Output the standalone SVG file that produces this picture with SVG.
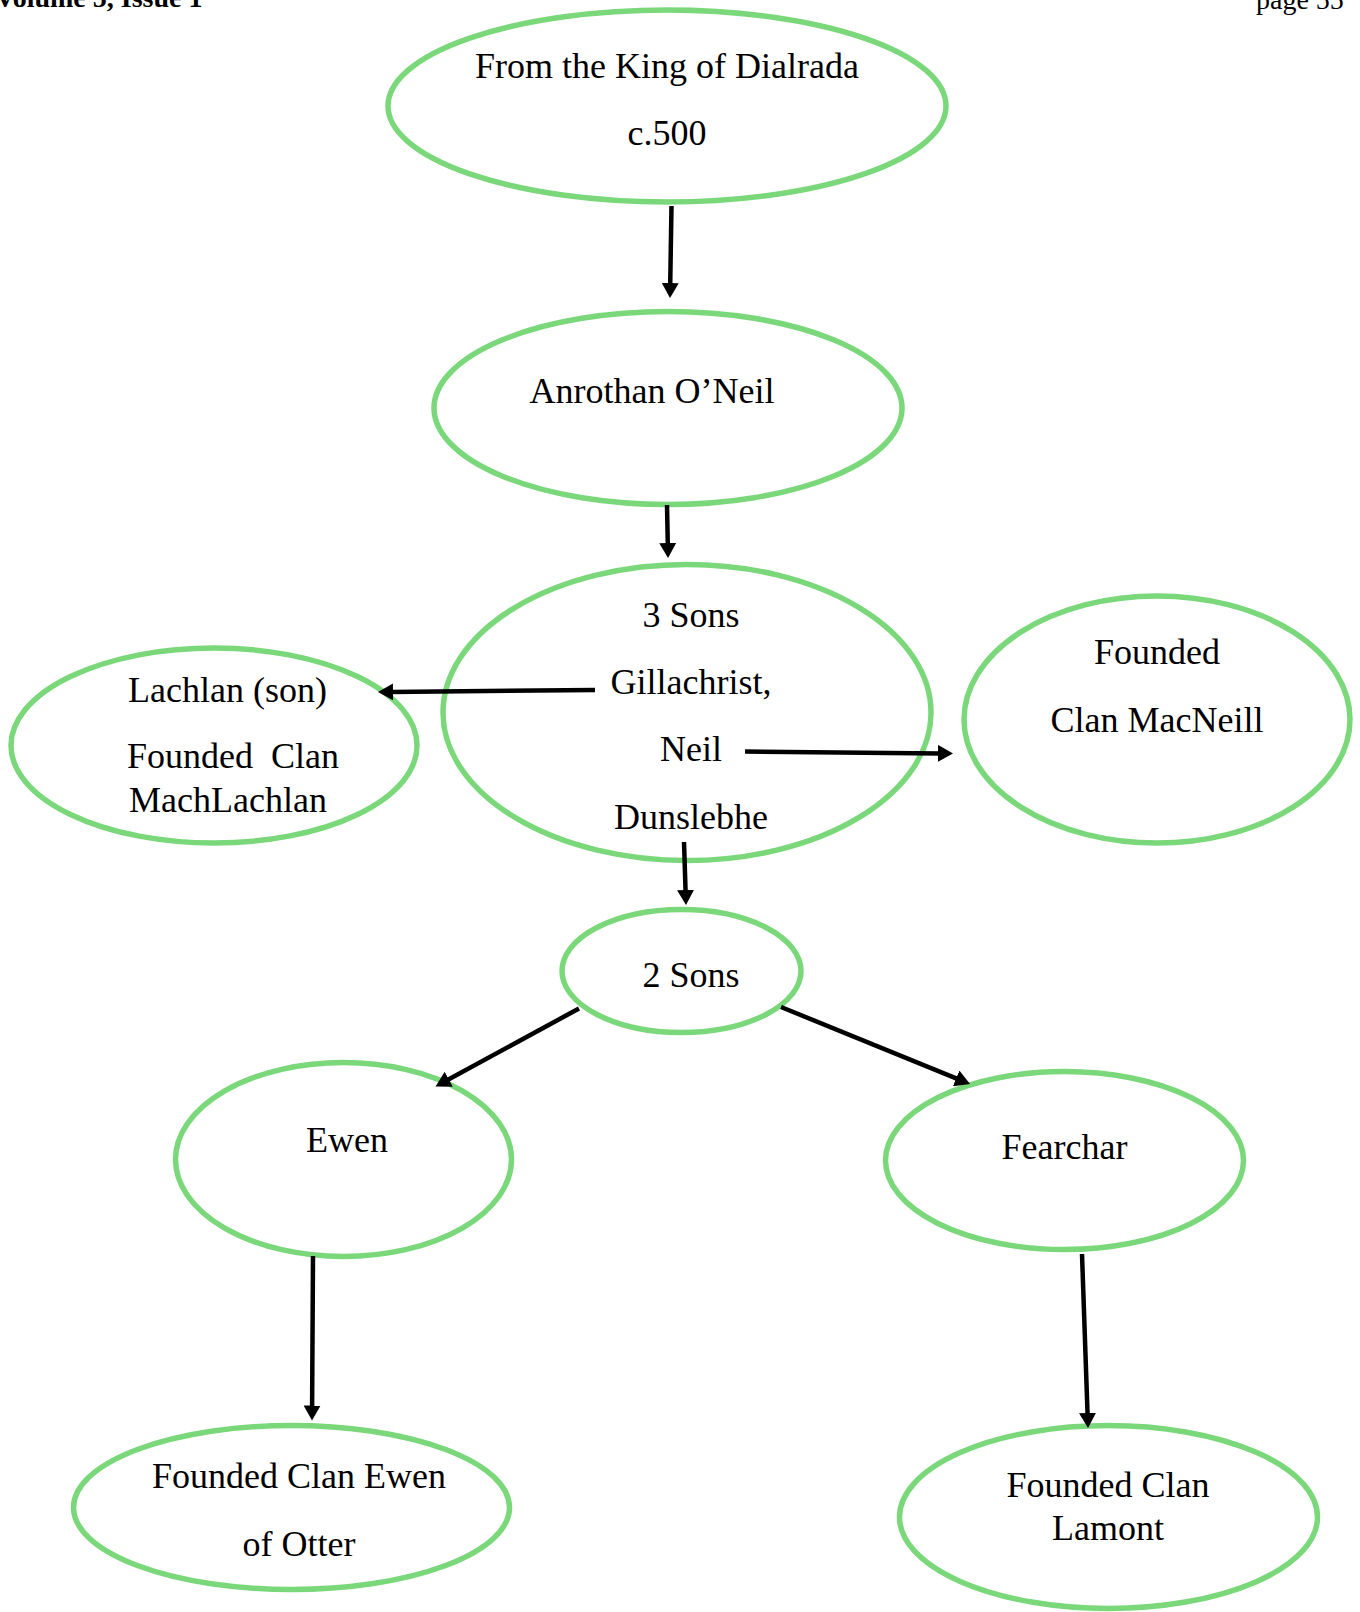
<svg xmlns="http://www.w3.org/2000/svg" width="1360" height="1612" viewBox="0 0 1360 1612">
<style>
.node ellipse{fill:#ffffff;stroke:#7ad87b;stroke-width:5.5}
.t{font-family:"Liberation Serif","Times New Roman",serif;font-size:36px;fill:#000;text-anchor:middle}
.l{text-anchor:start}
.hdr{font-family:"Liberation Serif","Times New Roman",serif;font-size:28px;fill:#000}
.conn line{stroke:#000;stroke-width:4.5;fill:none}
</style>
<defs>
<marker id="ah" markerUnits="userSpaceOnUse" markerWidth="17" markerHeight="17" refX="2" refY="8.5" orient="auto">
<path d="M0,0 L15,8.5 L0,17 z" fill="#000"/>
</marker>
</defs>
<rect width="1360" height="1612" fill="#ffffff"/>
<g id="header">
<text class="hdr" x="-5" y="6.5" font-weight="bold">Volume 5, Issue 1</text>
<text class="hdr" x="1256" y="9">page 55</text>
</g>
<g id="king" class="node">
<ellipse cx="667" cy="106" rx="279" ry="96"/>
<text class="t" x="667" y="78">From the King of Dialrada</text>
<text class="t" x="667" y="145">c.500</text>
</g>
<g id="anrothan" class="node">
<ellipse cx="668" cy="408" rx="234" ry="96.5"/>
<text class="t" x="652" y="403">Anrothan O’Neil</text>
</g>
<g id="threesons" class="node">
<ellipse cx="687" cy="712.5" rx="244" ry="148"/>
<text class="t" x="691" y="627">3 Sons</text>
<text class="t" x="691" y="694">Gillachrist,</text>
<text class="t" x="691" y="761">Neil</text>
<text class="t" x="691" y="829">Dunslebhe</text>
</g>
<g id="lachlan" class="node">
<ellipse cx="214" cy="745.5" rx="203" ry="97.5"/>
<text class="t l" x="128" y="702">Lachlan (son)</text>
<text class="t l" x="127" y="768" xml:space="preserve">Founded  Clan</text>
<text class="t l" x="129" y="812">MachLachlan</text>
</g>
<g id="macneill" class="node">
<ellipse cx="1157" cy="719.5" rx="193" ry="123.5"/>
<text class="t" x="1157" y="664">Founded</text>
<text class="t" x="1157" y="732">Clan MacNeill</text>
</g>
<g id="twosons" class="node">
<ellipse cx="681.5" cy="971" rx="119.5" ry="61.5"/>
<text class="t" x="691" y="987">2 Sons</text>
</g>
<g id="ewen" class="node">
<ellipse cx="343.5" cy="1159.5" rx="168" ry="97"/>
<text class="t" x="347" y="1152">Ewen</text>
</g>
<g id="fearchar" class="node">
<ellipse cx="1064.5" cy="1160.5" rx="179" ry="89"/>
<text class="t" x="1064.5" y="1159">Fearchar</text>
</g>
<g id="clanewen" class="node">
<ellipse cx="291.5" cy="1507.5" rx="218" ry="82"/>
<text class="t" x="299" y="1488">Founded Clan Ewen</text>
<text class="t" x="299" y="1556">of Otter</text>
</g>
<g id="lamont" class="node">
<ellipse cx="1108.5" cy="1517" rx="209" ry="91.5"/>
<text class="t" x="1108" y="1497">Founded Clan</text>
<text class="t" x="1108" y="1540">Lamont</text>
</g>
<g id="connectors" class="conn">
<line x1="671.5" y1="206" x2="670.2" y2="285" marker-end="url(#ah)"/>
<line x1="667" y1="505" x2="667.8" y2="545" marker-end="url(#ah)"/>
<line x1="595" y1="690" x2="391" y2="691.9" marker-end="url(#ah)"/>
<line x1="745" y1="751.5" x2="940" y2="753.4" marker-end="url(#ah)"/>
<line x1="684" y1="842" x2="685.6" y2="892" marker-end="url(#ah)"/>
<line x1="579" y1="1008.5" x2="447" y2="1080.2" marker-end="url(#ah)"/>
<line x1="781" y1="1007" x2="958" y2="1079.1" marker-end="url(#ah)"/>
<line x1="313" y1="1256" x2="312.1" y2="1407.5" marker-end="url(#ah)"/>
<line x1="1082" y1="1254" x2="1087.6" y2="1415" marker-end="url(#ah)"/>
</g>
</svg>
